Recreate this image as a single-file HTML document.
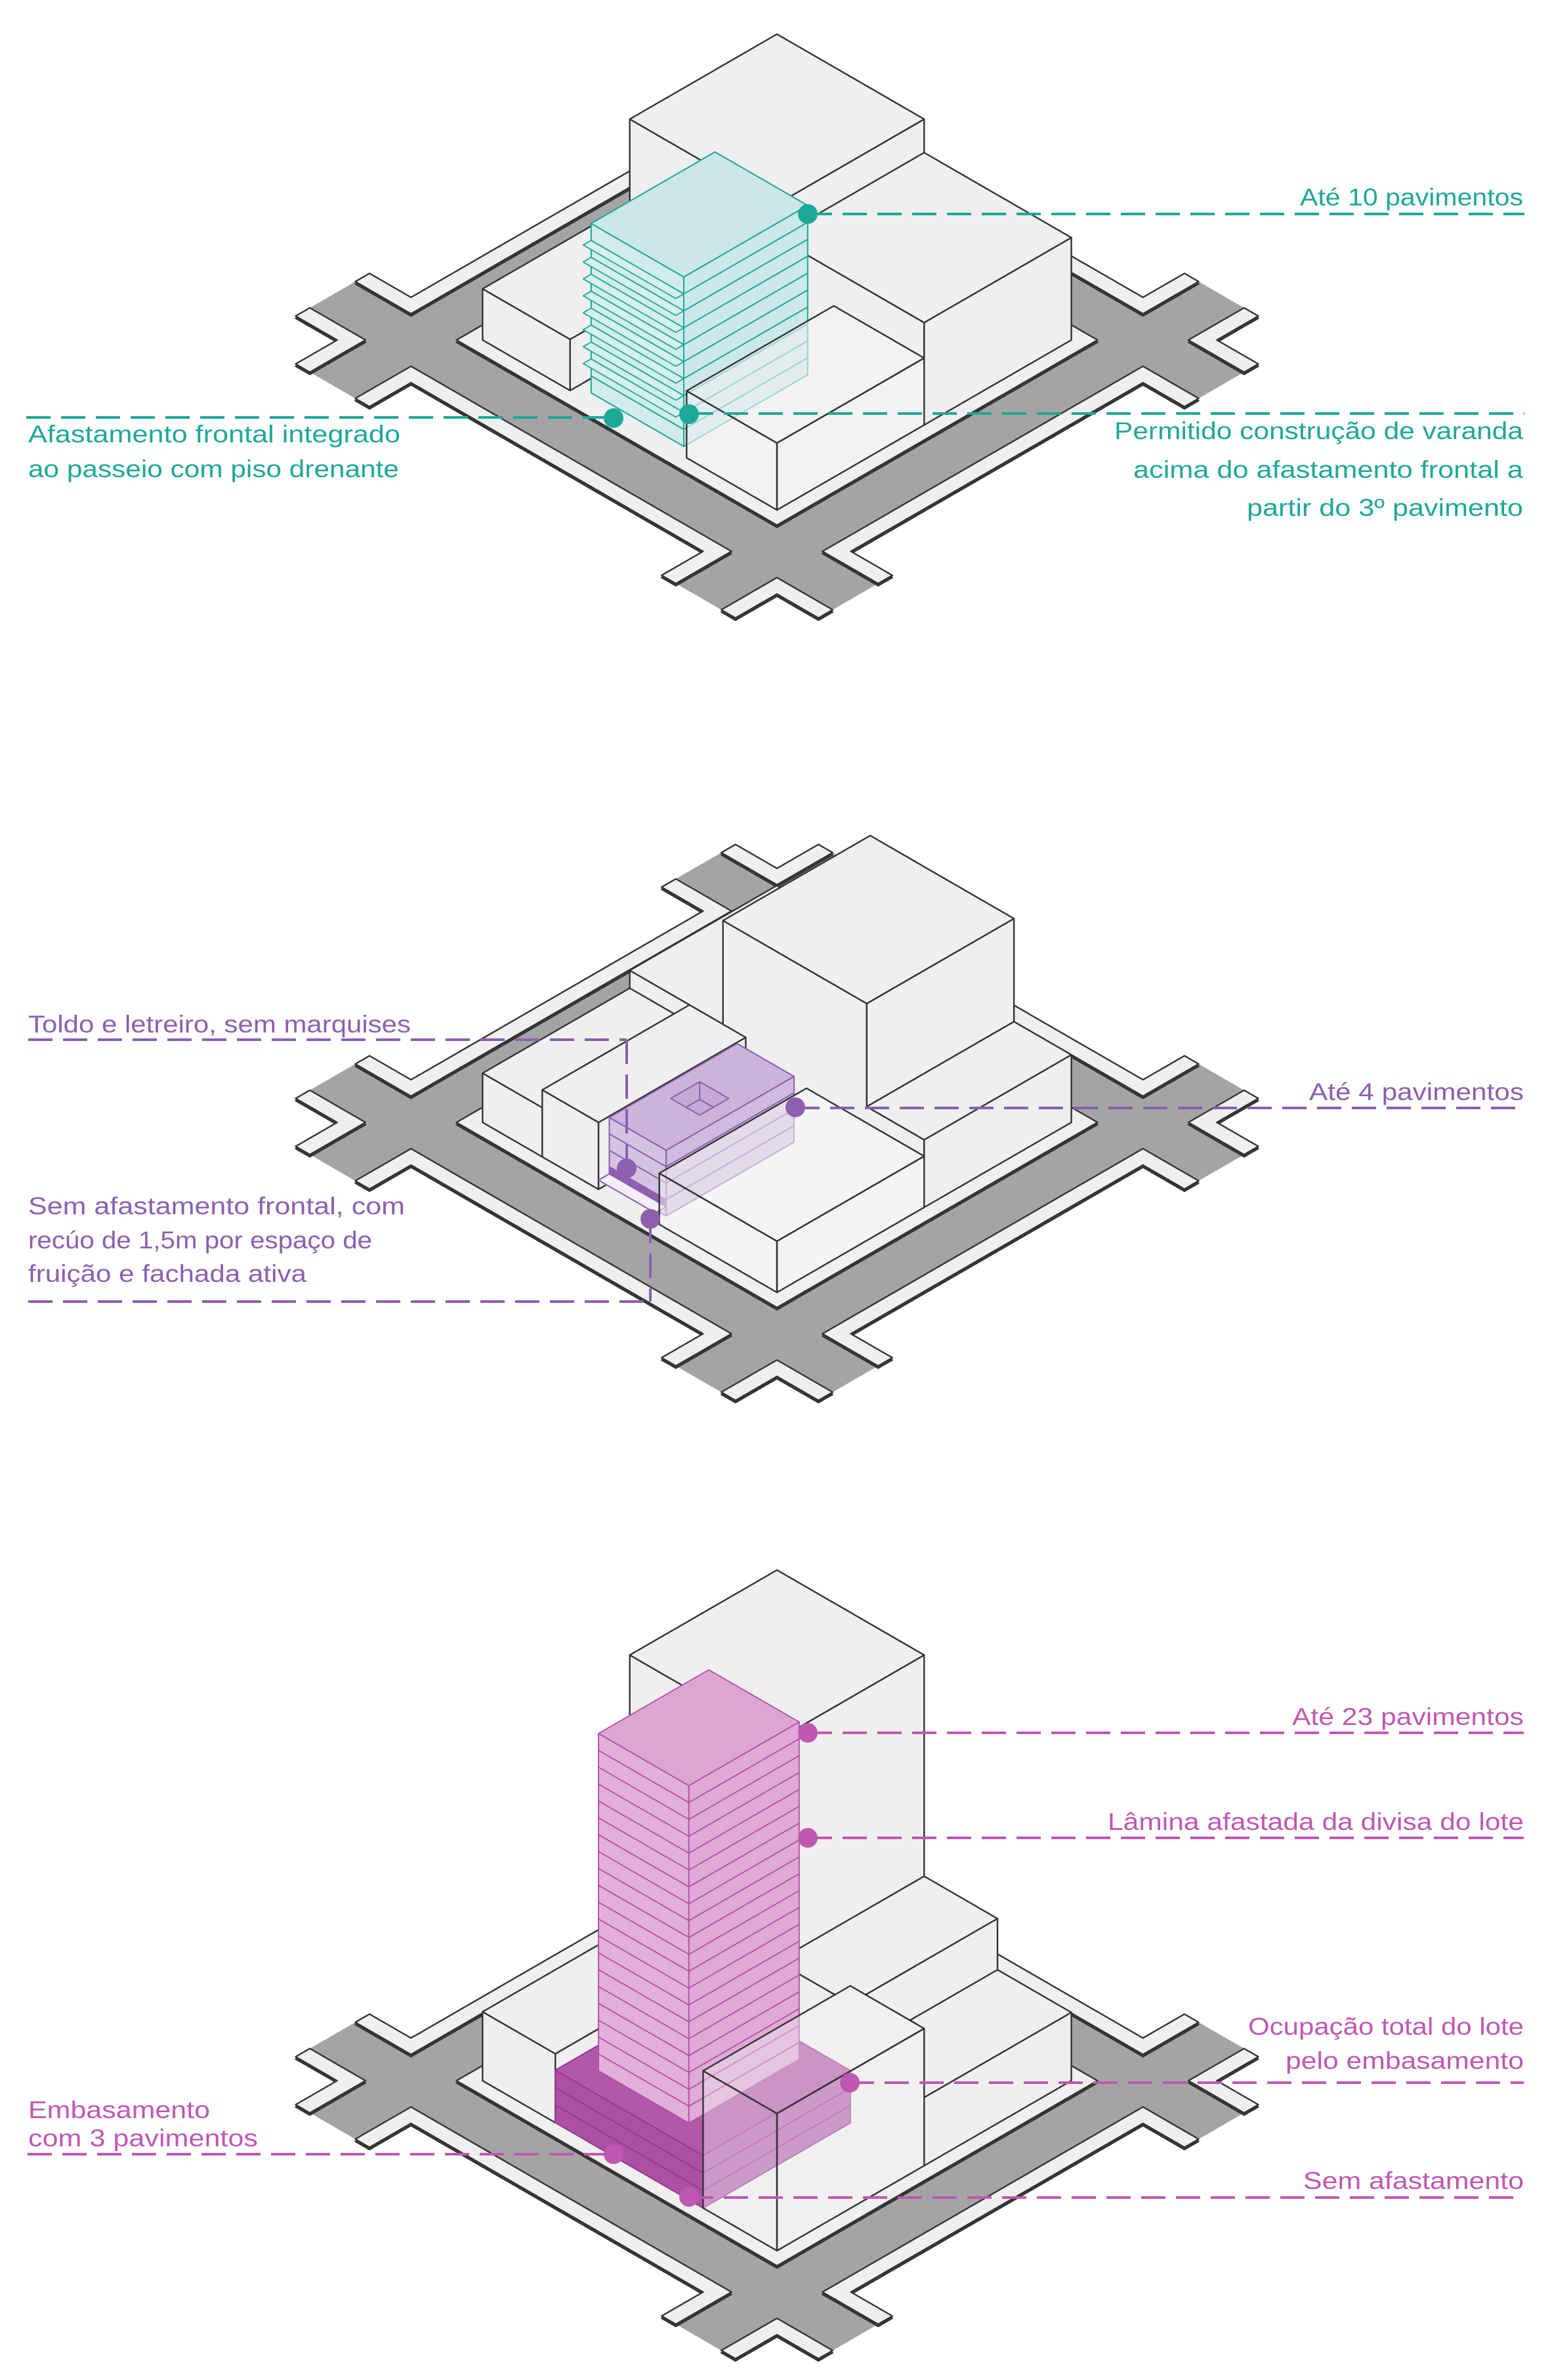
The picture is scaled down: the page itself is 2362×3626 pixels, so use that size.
<!DOCTYPE html>
<html><head><meta charset="utf-8">
<style>
html,body{margin:0;padding:0;background:#ffffff;}
svg{display:block;}
svg rect, svg line, svg polygon{vector-effect:non-scaling-stroke;}
text{font-family:"Liberation Sans",sans-serif;font-size:37px;}
</style></head><body>
<svg width="2362" height="3626" viewBox="0 0 2362 3626" xmlns="http://www.w3.org/2000/svg">
<defs>
<g id="wk">
<polygon vector-effect="non-scaling-stroke" points="-282,-282 282,-282 282,282 -282,282"/>
<polygon vector-effect="non-scaling-stroke" points="-460,-282 -362,-282 -362,282 -460,282 -460,257 -387,257 -387,-257 -460,-257"/>
<polygon vector-effect="non-scaling-stroke" points="460,-282 362,-282 362,282 460,282 460,257 387,257 387,-257 460,-257"/>
<polygon vector-effect="non-scaling-stroke" points="-282,-460 -282,-362 282,-362 282,-460 257,-460 257,-387 -257,-387 -257,-460"/>
<polygon vector-effect="non-scaling-stroke" points="-282,460 -282,362 282,362 282,460 257,460 257,387 -257,387 -257,460"/>
<polygon vector-effect="non-scaling-stroke" points="-460,-362 -362,-362 -362,-460 -387,-460 -387,-387 -460,-387"/>
<polygon vector-effect="non-scaling-stroke" points="460,-362 362,-362 362,-460 387,-460 387,-387 460,-387"/>
<polygon vector-effect="non-scaling-stroke" points="-460,362 -362,362 -362,460 -387,460 -387,387 -460,387"/>
<polygon vector-effect="non-scaling-stroke" points="460,362 362,362 362,460 387,460 387,387 460,387"/>
</g>
<g id="ground">
<g fill="#a4a4a4">
<rect x="-362" y="-460" width="80" height="920"/>
<rect x="282" y="-460" width="80" height="920"/>
<rect x="-460" y="-362" width="920" height="80"/>
<rect x="-460" y="282" width="920" height="80"/>
</g>
<use href="#wk" transform="translate(3.5,3.5)" fill="#363636" stroke="#363636" stroke-width="2.2"/>
<use href="#wk" fill="#efefef" stroke="#343434" stroke-width="2.4"/>
</g>
</defs>

<rect x="0" y="0" width="2362" height="3626" fill="#ffffff"/>

<!-- ================= DIAGRAM 1 ================= -->
<g transform="translate(1184,518)">
<g transform="matrix(0.8660254 0.5 -0.8660254 0.5 0 0)" stroke-linejoin="round">
<use href="#ground"/>
<g fill="#efefef" stroke="#333" stroke-width="2.4">
<!-- A -->
<rect transform="matrix(1 0 -1 -1 0 0)" x="-259" y="0" width="259" height="207"/>
<rect transform="matrix(0 1 -1 -1 0 0)" x="-259" y="0" width="259" height="207"/>
<rect transform="translate(-207,-207)" x="-259" y="-259" width="259" height="259"/>
<!-- B -->
<rect transform="matrix(1 0 -1 -1 0 0)" x="0" y="0" width="259" height="156"/>
<rect transform="translate(259,0) matrix(0 1 -1 -1 0 0)" x="-259" y="0" width="259" height="156"/>
<rect transform="translate(-156,-156)" x="0" y="-259" width="259" height="259"/>
<!-- D -->
<rect transform="translate(0,259) matrix(1 0 -1 -1 0 0)" x="-259" y="0" width="154" height="78"/>
<rect transform="translate(-105,0) matrix(0 1 -1 -1 0 0)" x="0" y="0" width="259" height="78"/>
<rect transform="translate(-78,-78)" x="-259" y="0" width="154" height="259"/>
</g>
<!-- T1 teal tower -->
<g id="t1" stroke="#1ea898" stroke-width="2">
<rect transform="translate(0,244) matrix(1 0 -1 -1 0 0)" x="-83" y="0" width="163" height="258" fill="#d2ebeb"/>
<rect transform="translate(80,0) matrix(0 1 -1 -1 0 0)" x="26" y="0" width="218" height="258" fill="#cde8e9"/>
<rect transform="translate(-258,-258)" x="-83" y="26" width="163" height="218" fill="#cbe7e8"/>
<g transform="translate(0,244) matrix(1 0 -1 -1 0 0)">
<line x1="-83" y1="25.8" x2="80" y2="25.8"/><line x1="-83" y1="51.6" x2="80" y2="51.6"/><line x1="-83" y1="77.4" x2="80" y2="77.4"/><line x1="-83" y1="103.2" x2="80" y2="103.2"/><line x1="-83" y1="129" x2="80" y2="129"/><line x1="-83" y1="154.8" x2="80" y2="154.8"/><line x1="-83" y1="180.6" x2="80" y2="180.6"/><line x1="-83" y1="206.4" x2="80" y2="206.4"/><line x1="-83" y1="232.2" x2="80" y2="232.2"/>
</g>
<g transform="translate(80,0) matrix(0 1 -1 -1 0 0)">
<line x1="26" y1="25.8" x2="244" y2="25.8"/><line x1="26" y1="51.6" x2="244" y2="51.6"/><line x1="26" y1="77.4" x2="244" y2="77.4"/><line x1="26" y1="103.2" x2="244" y2="103.2"/><line x1="26" y1="129" x2="244" y2="129"/><line x1="26" y1="154.8" x2="244" y2="154.8"/><line x1="26" y1="180.6" x2="244" y2="180.6"/><line x1="26" y1="206.4" x2="244" y2="206.4"/><line x1="26" y1="232.2" x2="244" y2="232.2"/>
</g>
<g fill="#d6eeee" stroke-width="1.8">
<rect transform="translate(-51.6,-51.6)" x="-83" y="244" width="163" height="14"/>
<rect transform="translate(-77.4,-77.4)" x="-83" y="244" width="163" height="14"/>
<rect transform="translate(-103.2,-103.2)" x="-83" y="244" width="163" height="14"/>
<rect transform="translate(-129,-129)" x="-83" y="244" width="163" height="14"/>
<rect transform="translate(-154.8,-154.8)" x="-83" y="244" width="163" height="14"/>
<rect transform="translate(-180.6,-180.6)" x="-83" y="244" width="163" height="14"/>
<rect transform="translate(-206.4,-206.4)" x="-83" y="244" width="163" height="14"/>
<rect transform="translate(-232.2,-232.2)" x="-83" y="244" width="163" height="14"/>
</g>
</g>
<!-- C : opaque fill, ghost tower, outlines -->
<g fill="#f2f2f2" stroke="none">
<rect transform="translate(0,259) matrix(1 0 -1 -1 0 0)" x="100" y="0" width="159" height="102"/>
<rect transform="translate(259,0) matrix(0 1 -1 -1 0 0)" x="0" y="0" width="259" height="102"/>
<rect transform="translate(-102,-102)" x="100" y="0" width="159" height="259"/>
</g>
<use href="#t1" opacity="0.4"/>
<g fill="none" stroke="#333" stroke-width="2.4">
<rect transform="translate(0,259) matrix(1 0 -1 -1 0 0)" x="100" y="0" width="159" height="102"/>
<rect transform="translate(259,0) matrix(0 1 -1 -1 0 0)" x="0" y="0" width="259" height="102"/>
<rect transform="translate(-102,-102)" x="100" y="0" width="159" height="259"/>
</g>
</g>
</g>

<!-- D1 annotations -->
<g stroke="#1ea898" stroke-width="4" stroke-dasharray="37 16" fill="none">
<line x1="1231" y1="326" x2="2323" y2="326"/>
<line x1="1050" y1="630" x2="2323" y2="630"/>
<line x1="40" y1="636" x2="935" y2="636"/>
</g>
<g fill="#1ea898">
<circle cx="1231" cy="326" r="15"/>
<circle cx="935" cy="637" r="15"/>
<circle cx="1050" cy="631" r="15"/>
<text x="1981" y="313" textLength="340" lengthAdjust="spacingAndGlyphs">Até 10 pavimentos</text>
<text x="1698" y="669" textLength="623" lengthAdjust="spacingAndGlyphs">Permitido construção de varanda</text>
<text x="1727" y="728" textLength="594" lengthAdjust="spacingAndGlyphs">acima do afastamento frontal a</text>
<text x="1900" y="786" textLength="421" lengthAdjust="spacingAndGlyphs">partir do 3º pavimento</text>
<text x="43" y="674" textLength="567" lengthAdjust="spacingAndGlyphs">Afastamento frontal integrado</text>
<text x="43" y="727" textLength="565" lengthAdjust="spacingAndGlyphs">ao passeio com piso drenante</text>
</g>

<!-- ================= DIAGRAM 2 ================= -->
<g transform="translate(1184,1710)">
<g transform="matrix(0.8660254 0.5 -0.8660254 0.5 0 0)" stroke-linejoin="round">
<use href="#ground"/>
<g fill="#efefef" stroke="#333" stroke-width="2.4">
<!-- K top -->
<rect transform="translate(-102,-102)" x="-259" y="-259" width="164" height="259"/>
<!-- combined coplanar front-left faces of K, E, F -->
<polygon transform="matrix(1 0 -1 -1 0 0)" points="-259,0 259,0 259,103 158,103 158,260 -95,260 -95,102 -259,102"/>
<!-- E right (visible above F) + top -->
<rect transform="translate(158,0) matrix(0 1 -1 -1 0 0)" x="-259" y="103" width="259" height="157"/>
<rect transform="translate(-260,-260)" x="-95" y="-259" width="253" height="259"/>
<!-- F right + top -->
<rect transform="translate(259,0) matrix(0 1 -1 -1 0 0)" x="-259" y="0" width="259" height="103"/>
<rect transform="translate(-103,-103)" x="158" y="-259" width="101" height="259"/>
<!-- G1 -->
<rect transform="translate(0,259) matrix(1 0 -1 -1 0 0)" x="-259" y="0" width="105" height="75"/>
<rect transform="translate(-154,0) matrix(0 1 -1 -1 0 0)" x="0" y="0" width="259" height="75"/>
<rect transform="translate(-75,-75)" x="-259" y="0" width="105" height="259"/>
<!-- G2 -->
<rect transform="translate(0,259) matrix(1 0 -1 -1 0 0)" x="-154" y="0" width="99" height="102"/>
<rect transform="translate(-55,0) matrix(0 1 -1 -1 0 0)" x="0" y="0" width="259" height="102"/>
<rect transform="translate(-102,-102)" x="-154" y="0" width="99" height="259"/>
</g>
<!-- T2 purple -->
<g id="t2" stroke="#8d5fae" stroke-width="2">
<rect transform="translate(0,240) matrix(1 0 -1 -1 0 0)" x="-55" y="0" width="100" height="100" fill="#d4c2e3"/>
<rect transform="translate(45,0) matrix(0 1 -1 -1 0 0)" x="15" y="0" width="225" height="100" fill="#cfbbdf"/>
<rect transform="translate(-100,-100)" x="-55" y="15" width="100" height="225" fill="#cbb3db"/>
<g transform="translate(0,240) matrix(1 0 -1 -1 0 0)">
<line x1="-55" y1="25" x2="45" y2="25"/><line x1="-55" y1="50" x2="45" y2="50"/><line x1="-55" y1="75" x2="45" y2="75"/>
<rect x="-55" y="14" width="100" height="10" fill="#8d5fae"/>
</g>
<g transform="translate(45,0) matrix(0 1 -1 -1 0 0)">
<line x1="15" y1="25" x2="240" y2="25"/><line x1="15" y1="50" x2="240" y2="50"/><line x1="15" y1="75" x2="240" y2="75"/>
</g>
<rect transform="translate(-100,-100)" x="-30" y="106" width="51" height="51" fill="#c4aad6"/>
<rect transform="translate(-14,-14)" x="-55" y="240" width="100" height="19" fill="#f2edf6"/>
</g>
<!-- C' : opaque fill, ghost tower, outlines -->
<g fill="#f4f4f4" stroke="none">
<rect transform="translate(0,259) matrix(1 0 -1 -1 0 0)" x="52" y="0" width="207" height="78"/>
<rect transform="translate(259,0) matrix(0 1 -1 -1 0 0)" x="0" y="0" width="259" height="78"/>
<rect transform="translate(-78,-78)" x="52" y="0" width="207" height="259"/>
</g>
<use href="#t2" opacity="0.45"/>
<g fill="none" stroke="#333" stroke-width="2.4">
<rect transform="translate(0,259) matrix(1 0 -1 -1 0 0)" x="52" y="0" width="207" height="78"/>
<rect transform="translate(259,0) matrix(0 1 -1 -1 0 0)" x="0" y="0" width="259" height="78"/>
<rect transform="translate(-78,-78)" x="52" y="0" width="207" height="259"/>
</g>
</g>
</g>
<!-- skylight inner lines -->
<g stroke="#8d5fae" stroke-width="2" fill="none">
<line x1="1066.2" y1="1648" x2="1066.2" y2="1675"/>
<line x1="1066.2" y1="1675" x2="1045.4" y2="1687"/>
<line x1="1066.2" y1="1675" x2="1087" y2="1687"/>
</g>

<!-- D2 annotations -->
<g stroke="#8d5fae" stroke-width="4" stroke-dasharray="37 16" fill="none">
<line x1="43" y1="1584" x2="955" y2="1584"/>
<line x1="955" y1="1584" x2="955" y2="1780"/>
<line x1="1212" y1="1688" x2="2322" y2="1688"/>
<line x1="43" y1="1983" x2="991" y2="1983"/>
<line x1="991" y1="1857" x2="991" y2="1983"/>
</g>
<g fill="#8d5fae">
<circle cx="955" cy="1780" r="15"/>
<circle cx="991" cy="1857" r="15"/>
<circle cx="1212" cy="1687" r="15"/>
<text x="43" y="1573" textLength="583" lengthAdjust="spacingAndGlyphs">Toldo e letreiro, sem marquises</text>
<text x="1995" y="1676" textLength="327" lengthAdjust="spacingAndGlyphs">Até 4 pavimentos</text>
<text x="43" y="1850" textLength="574" lengthAdjust="spacingAndGlyphs">Sem afastamento frontal, com</text>
<text x="43" y="1902" textLength="524" lengthAdjust="spacingAndGlyphs">recúo de 1,5m por espaço de</text>
<text x="43" y="1953" textLength="424" lengthAdjust="spacingAndGlyphs">fruição e fachada ativa</text>
</g>

<!-- ================= DIAGRAM 3 ================= -->
<g transform="translate(1184,3170)">
<g transform="matrix(0.8660254 0.5 -0.8660254 0.5 0 0)" stroke-linejoin="round">
<use href="#ground"/>
<g fill="#efefef" stroke="#333" stroke-width="2.4">
<!-- M -->
<rect transform="matrix(1 0 -1 -1 0 0)" x="-259" y="0" width="259" height="519"/>
<rect transform="matrix(0 1 -1 -1 0 0)" x="-259" y="0" width="259" height="519"/>
<rect transform="translate(-519,-519)" x="-259" y="-259" width="259" height="259"/>
<!-- N1 -->
<rect transform="matrix(1 0 -1 -1 0 0)" x="0" y="0" width="129" height="182"/>
<rect transform="translate(129,0) matrix(0 1 -1 -1 0 0)" x="-259" y="0" width="259" height="182"/>
<rect transform="translate(-182,-182)" x="0" y="-259" width="129" height="259"/>
<!-- N2 -->
<rect transform="matrix(1 0 -1 -1 0 0)" x="129" y="0" width="130" height="104"/>
<rect transform="translate(259,0) matrix(0 1 -1 -1 0 0)" x="-259" y="0" width="259" height="104"/>
<rect transform="translate(-104,-104)" x="129" y="-259" width="130" height="259"/>
<!-- R -->
<rect transform="translate(0,259) matrix(1 0 -1 -1 0 0)" x="-259" y="0" width="128" height="105"/>
<rect transform="translate(-131,0) matrix(0 1 -1 -1 0 0)" x="0" y="0" width="259" height="105"/>
<rect transform="translate(-105,-105)" x="-259" y="0" width="128" height="259"/>
</g>
<g id="t3">
<!-- Podium -->
<g stroke="#98398f" stroke-width="2">
<rect transform="translate(0,259) matrix(1 0 -1 -1 0 0)" x="-131" y="0" width="260" height="80" fill="#ad50a5"/>
<rect transform="translate(129,0) matrix(0 1 -1 -1 0 0)" x="0" y="0" width="259" height="80" fill="#b660b0"/>
<rect transform="translate(-80,-80)" x="-131" y="0" width="260" height="259" fill="#b158aa"/>
<g transform="translate(0,259) matrix(1 0 -1 -1 0 0)">
<line x1="-131" y1="26.7" x2="129" y2="26.7"/><line x1="-131" y1="53.3" x2="129" y2="53.3"/>
</g>
<g transform="translate(129,0) matrix(0 1 -1 -1 0 0)">
<line x1="0" y1="26.7" x2="259" y2="26.7"/><line x1="0" y1="53.3" x2="259" y2="53.3"/>
</g>
</g>
<!-- T3 pink tower -->
<g stroke="#b24fa8" stroke-width="1.8">
<rect transform="translate(0,222) matrix(1 0 -1 -1 0 0)" x="-92" y="80" width="159" height="514" fill="#e2afd8"/>
<rect transform="translate(67,0) matrix(0 1 -1 -1 0 0)" x="28" y="80" width="194" height="514" fill="#dfaad5"/>
<rect transform="translate(-594,-594)" x="-92" y="28" width="159" height="194" fill="#dca6d2"/>
<g transform="translate(0,222) matrix(1 0 -1 -1 0 0)">
<line x1="-92" y1="105.7" x2="67" y2="105.7"/><line x1="-92" y1="131.4" x2="67" y2="131.4"/><line x1="-92" y1="157.1" x2="67" y2="157.1"/><line x1="-92" y1="182.8" x2="67" y2="182.8"/><line x1="-92" y1="208.5" x2="67" y2="208.5"/><line x1="-92" y1="234.2" x2="67" y2="234.2"/><line x1="-92" y1="259.9" x2="67" y2="259.9"/><line x1="-92" y1="285.6" x2="67" y2="285.6"/><line x1="-92" y1="311.3" x2="67" y2="311.3"/><line x1="-92" y1="337" x2="67" y2="337"/><line x1="-92" y1="362.7" x2="67" y2="362.7"/><line x1="-92" y1="388.4" x2="67" y2="388.4"/><line x1="-92" y1="414.1" x2="67" y2="414.1"/><line x1="-92" y1="439.8" x2="67" y2="439.8"/><line x1="-92" y1="465.5" x2="67" y2="465.5"/><line x1="-92" y1="491.2" x2="67" y2="491.2"/><line x1="-92" y1="516.9" x2="67" y2="516.9"/><line x1="-92" y1="542.6" x2="67" y2="542.6"/><line x1="-92" y1="568.3" x2="67" y2="568.3"/>
</g>
<g transform="translate(67,0) matrix(0 1 -1 -1 0 0)">
<line x1="28" y1="105.7" x2="222" y2="105.7"/><line x1="28" y1="131.4" x2="222" y2="131.4"/><line x1="28" y1="157.1" x2="222" y2="157.1"/><line x1="28" y1="182.8" x2="222" y2="182.8"/><line x1="28" y1="208.5" x2="222" y2="208.5"/><line x1="28" y1="234.2" x2="222" y2="234.2"/><line x1="28" y1="259.9" x2="222" y2="259.9"/><line x1="28" y1="285.6" x2="222" y2="285.6"/><line x1="28" y1="311.3" x2="222" y2="311.3"/><line x1="28" y1="337" x2="222" y2="337"/><line x1="28" y1="362.7" x2="222" y2="362.7"/><line x1="28" y1="388.4" x2="222" y2="388.4"/><line x1="28" y1="414.1" x2="222" y2="414.1"/><line x1="28" y1="439.8" x2="222" y2="439.8"/><line x1="28" y1="465.5" x2="222" y2="465.5"/><line x1="28" y1="491.2" x2="222" y2="491.2"/><line x1="28" y1="516.9" x2="222" y2="516.9"/><line x1="28" y1="542.6" x2="222" y2="542.6"/><line x1="28" y1="568.3" x2="222" y2="568.3"/>
</g>
</g>
</g>
<!-- Q : opaque fill, ghost podium+tower, outlines -->
<g fill="#f0f0f0" stroke="none">
<rect transform="translate(0,259) matrix(1 0 -1 -1 0 0)" x="129" y="0" width="130" height="209"/>
<rect transform="translate(259,0) matrix(0 1 -1 -1 0 0)" x="0" y="0" width="259" height="209"/>
<rect transform="translate(-209,-209)" x="129" y="0" width="130" height="259"/>
</g>
<use href="#t3" opacity="0.6"/>
<g fill="none" stroke="#333" stroke-width="2.4">
<rect transform="translate(0,259) matrix(1 0 -1 -1 0 0)" x="129" y="0" width="130" height="209"/>
<rect transform="translate(259,0) matrix(0 1 -1 -1 0 0)" x="0" y="0" width="259" height="209"/>
<rect transform="translate(-209,-209)" x="129" y="0" width="130" height="259"/>
</g>
</g>
</g>

<!-- D3 annotations -->
<g stroke="#bf58b2" stroke-width="4" stroke-dasharray="37 16" fill="none">
<line x1="1231" y1="2640" x2="2322" y2="2640"/>
<line x1="1231" y1="2800" x2="2322" y2="2800"/>
<line x1="1295" y1="3173" x2="2322" y2="3173"/>
<line x1="1050" y1="3348" x2="2322" y2="3348"/>
<line x1="42" y1="3282" x2="935" y2="3282"/>
</g>
<g fill="#bf58b2">
<circle cx="1231" cy="2640" r="15"/>
<circle cx="1231" cy="2800" r="15"/>
<circle cx="1295" cy="3173" r="15"/>
<circle cx="1050" cy="3347" r="15"/>
<circle cx="935" cy="3282" r="15"/>
<text x="1969" y="2628" textLength="353" lengthAdjust="spacingAndGlyphs">Até 23 pavimentos</text>
<text x="1688" y="2788" textLength="634" lengthAdjust="spacingAndGlyphs">Lâmina afastada da divisa do lote</text>
<text x="1902" y="3100" textLength="420" lengthAdjust="spacingAndGlyphs">Ocupação total do lote</text>
<text x="1959" y="3152" textLength="363" lengthAdjust="spacingAndGlyphs">pelo embasamento</text>
<text x="1986" y="3335" textLength="336" lengthAdjust="spacingAndGlyphs">Sem afastamento</text>
<text x="43" y="3227" textLength="277" lengthAdjust="spacingAndGlyphs">Embasamento</text>
<text x="43" y="3270" textLength="350" lengthAdjust="spacingAndGlyphs">com 3 pavimentos</text>
</g>
</svg>
</body></html>
